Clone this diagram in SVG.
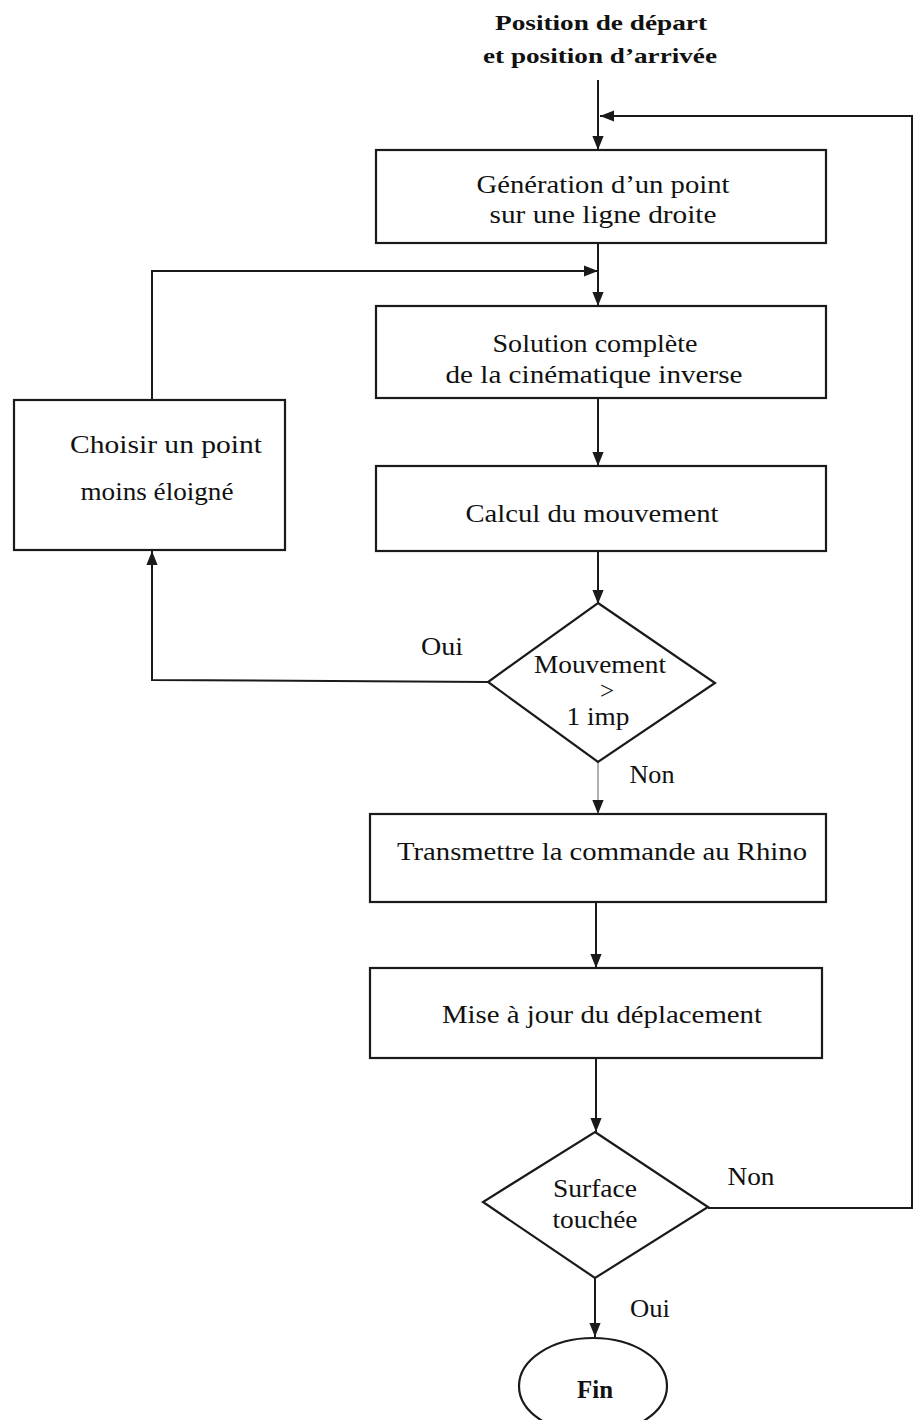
<svg xmlns="http://www.w3.org/2000/svg" width="915" height="1420" viewBox="0 0 915 1420">
  <style>
    .box { fill: none; stroke: #1a1a1a; stroke-width: 2.2; }
    .ln { fill: none; stroke: #1a1a1a; stroke-width: 2; }
    .t { font-family: "Liberation Serif", "DejaVu Serif", serif; font-size: 25px; fill: #111; text-anchor: middle; }
    .b { font-weight: bold; font-size: 22px; }
    .big { font-size: 25px; }
  </style>
  <defs>
    <marker id="arr" viewBox="0 0 10 10" refX="10" refY="5" markerWidth="7" markerHeight="7" orient="auto">
      <path d="M0,1 L10,5 L0,9 Z" fill="#1a1a1a"/>
    </marker>
  </defs>
  <rect width="915" height="1420" fill="#fff"/>

  <g id="start">
    <text class="t b" x="601" y="30" textLength="212" lengthAdjust="spacingAndGlyphs">Position de départ</text>
    <text class="t b" x="600" y="63" textLength="234" lengthAdjust="spacingAndGlyphs">et position d’arrivée</text>
  </g>

  <g id="connectors">
    <!-- start to generation -->
    <path class="ln" d="M598,80 V150" marker-end="url(#arr)"/>
    <!-- return loop from surface test -->
    <path class="ln" d="M708,1208 H912 V116 H600" marker-end="url(#arr)"/>
    <!-- generation to solution -->
    <path class="ln" d="M598,243 V306" marker-end="url(#arr)"/>
    <!-- choose-nearer loop back -->
    <path class="ln" d="M152,400 V271 H598" marker-end="url(#arr)"/>
    <!-- solution to calcul -->
    <path class="ln" d="M598,398 V466" marker-end="url(#arr)"/>
    <!-- calcul to decision -->
    <path class="ln" d="M598,551 V604" marker-end="url(#arr)"/>
    <!-- decision yes branch -->
    <path class="ln" d="M488,682 L152,680 V551" marker-end="url(#arr)"/>
    <!-- decision no branch -->
    <path class="ln" d="M598,762 V814" marker-end="url(#arr)" stroke-opacity="0.35"/>
    <!-- transmit to update -->
    <path class="ln" d="M596,902 V968" marker-end="url(#arr)"/>
    <!-- update to surface test -->
    <path class="ln" d="M596,1058 V1132" marker-end="url(#arr)"/>
    <!-- surface test to end -->
    <path class="ln" d="M595,1278 V1337" marker-end="url(#arr)"/>
  </g>

  <g id="generation">
    <rect class="box" x="376" y="150" width="450" height="93"/>
    <text class="t" x="603" y="193" textLength="253" lengthAdjust="spacingAndGlyphs">Génération d’un point</text>
    <text class="t" x="603" y="223" textLength="227" lengthAdjust="spacingAndGlyphs">sur une ligne droite</text>
  </g>

  <g id="solution">
    <rect class="box" x="376" y="306" width="450" height="92"/>
    <text class="t" x="595" y="352" textLength="205" lengthAdjust="spacingAndGlyphs">Solution complète</text>
    <text class="t" x="594" y="383" textLength="297" lengthAdjust="spacingAndGlyphs">de la cinématique inverse</text>
  </g>

  <g id="choisir">
    <rect class="box" x="14" y="400" width="271" height="150"/>
    <text class="t" x="166" y="453" textLength="192" lengthAdjust="spacingAndGlyphs">Choisir un point</text>
    <text class="t" x="157" y="500" textLength="153" lengthAdjust="spacingAndGlyphs">moins éloigné</text>
  </g>

  <g id="calcul">
    <rect class="box" x="376" y="466" width="450" height="85"/>
    <text class="t" x="592" y="522" textLength="253" lengthAdjust="spacingAndGlyphs">Calcul du mouvement</text>
  </g>

  <g id="decision-mouvement">
    <path class="box" d="M598,603 L715,683 L598,762 L488,682 Z"/>
    <text class="t" x="600" y="673" textLength="132" lengthAdjust="spacingAndGlyphs">Mouvement</text>
    <text class="t" x="607" y="699">&gt;</text>
    <text class="t" x="598" y="725" textLength="63" lengthAdjust="spacingAndGlyphs">1 imp</text>
    <text class="t" x="442" y="655" textLength="42" lengthAdjust="spacingAndGlyphs">Oui</text>
    <text class="t" x="652" y="783" textLength="45" lengthAdjust="spacingAndGlyphs">Non</text>
  </g>

  <g id="transmettre">
    <rect class="box" x="370" y="814" width="456" height="88"/>
    <text class="t" x="602" y="860" textLength="410" lengthAdjust="spacingAndGlyphs">Transmettre la commande au Rhino</text>
  </g>

  <g id="miseajour">
    <rect class="box" x="370" y="968" width="452" height="90"/>
    <text class="t" x="602" y="1023" textLength="320" lengthAdjust="spacingAndGlyphs">Mise à jour du déplacement</text>
  </g>

  <g id="decision-surface">
    <path class="box" d="M595,1132 L708,1207 L595,1278 L483,1202 Z"/>
    <text class="t" x="595" y="1197" textLength="84" lengthAdjust="spacingAndGlyphs">Surface</text>
    <text class="t" x="595" y="1228" textLength="85" lengthAdjust="spacingAndGlyphs">touchée</text>
    <text class="t" x="751" y="1185" textLength="47" lengthAdjust="spacingAndGlyphs">Non</text>
    <text class="t" x="650" y="1317" textLength="40" lengthAdjust="spacingAndGlyphs">Oui</text>
  </g>

  <g id="fin">
    <ellipse class="box" cx="593" cy="1386" rx="74" ry="48"/>
    <text class="t b big" x="595" y="1398" textLength="36" lengthAdjust="spacingAndGlyphs">Fin</text>
  </g>
</svg>
